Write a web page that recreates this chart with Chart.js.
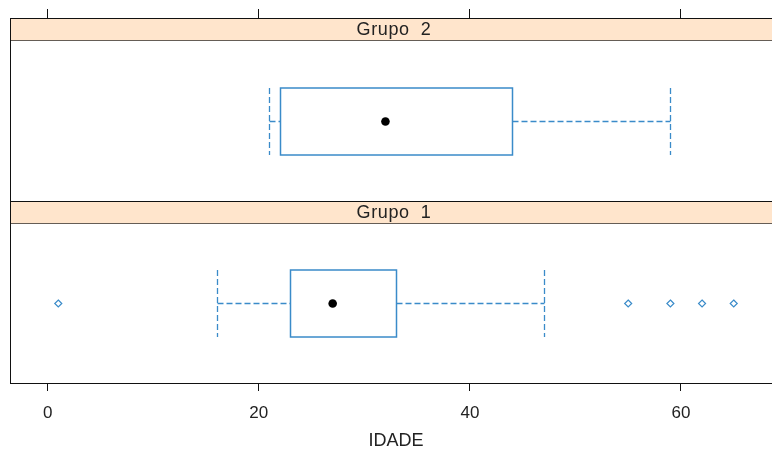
<!DOCTYPE html>
<html>
<head>
<meta charset="utf-8">
<script src="https://cdn.jsdelivr.net/npm/chart.js@4.4.1/dist/chart.umd.min.js"></script>
<style>
    body { margin: 0; background: #fff; overflow: hidden; }
    #wrap { width: 772px; height: 454px; overflow: hidden; }
</style>
</head>
<body>
<div id="wrap"><canvas id="myChart" width="800" height="454"></canvas></div>
<script>
// resumo dos boxplots (Grupo 1 embaixo, Grupo 2 em cima)
const grupos = ["Grupo  1", "Grupo  2"];
const minimos = [16, 21];
const quartil1 = [23, 22];
const medianas = [27, 32];
const quartil3 = [33, 44];
const maximos = [47, 59];
const outliers = [[1, 55, 59, 62, 65], []];
const ticksX = [0, 20, 40, 60];

const azul = "#3a8bc9";
const fonte = "'Liberation Sans', Arial, sans-serif";

const fixaTicks = (scale) => {
    scale.ticks = ticksX.map(v => ({ value: v }));
}

const paineis = {
    id: "paineis",
    afterDraw(chart) {
        const { ctx, chartArea, scales } = chart;
        const x = scales.x;
        const y = scales.y;
        const faixa = 22;
        const meiaAltura = 33.5;

        ctx.save();
        for (let i = 0; i < grupos.length; i++) {
            const topo = Math.round(y.getPixelForValue(i + 1));
            const base = Math.round(y.getPixelForValue(i));
            const esq = chartArea.left;
            const dir = chartArea.right;

            // faixa com o nome do grupo
            ctx.fillStyle = "#ffe5cc";
            ctx.fillRect(esq, topo, dir - esq, faixa);
            ctx.strokeStyle = "#655d56";
            ctx.lineWidth = 1.2;
            ctx.beginPath();
            ctx.moveTo(esq, topo + 0.5);
            ctx.lineTo(dir, topo + 0.5);
            ctx.moveTo(esq, topo + faixa + 0.5);
            ctx.lineTo(dir, topo + faixa + 0.5);
            ctx.stroke();
            ctx.fillStyle = "#222";
            ctx.font = "18px " + fonte;
            ctx.letterSpacing = "0.6px";
            ctx.textAlign = "center";
            ctx.textBaseline = "middle";
            ctx.fillText(grupos[i], (esq + 771) / 2 + 3, topo + faixa / 2 + 1);
            ctx.letterSpacing = "0px";

            // borda do painel
            ctx.strokeStyle = "#111";
            ctx.lineWidth = 1;
            ctx.strokeRect(esq - 0.5, topo + 0.5, dir - esq, base - topo);

            const cy = Math.round((topo + faixa + base) / 2) + 0.5;
            const px = (v) => Math.round(x.getPixelForValue(v)) + 0.5;

            // bigodes tracejados
            ctx.strokeStyle = azul;
            ctx.lineWidth = 1.3;
            ctx.setLineDash([6, 3]);
            ctx.beginPath();
            ctx.moveTo(px(minimos[i]), cy);
            ctx.lineTo(px(quartil1[i]), cy);
            ctx.moveTo(px(quartil3[i]), cy);
            ctx.lineTo(px(maximos[i]), cy);
            ctx.moveTo(px(minimos[i]), cy - meiaAltura);
            ctx.lineTo(px(minimos[i]), cy + meiaAltura);
            ctx.moveTo(px(maximos[i]), cy - meiaAltura);
            ctx.lineTo(px(maximos[i]), cy + meiaAltura);
            ctx.stroke();
            ctx.setLineDash([]);

            // caixa
            ctx.lineWidth = 1.5;
            ctx.fillStyle = "#fff";
            const bx = px(quartil1[i]);
            const bw = px(quartil3[i]) - bx;
            ctx.fillRect(bx, cy - meiaAltura, bw, meiaAltura * 2);
            ctx.strokeRect(bx, cy - meiaAltura, bw, meiaAltura * 2);

            // mediana
            ctx.fillStyle = "#000";
            ctx.beginPath();
            ctx.arc(x.getPixelForValue(medianas[i]), cy, 4.3, 0, Math.PI * 2);
            ctx.fill();

            // pontos extremos
            ctx.strokeStyle = azul;
            ctx.lineWidth = 1.2;
            outliers[i].forEach(v => {
                const ox = x.getPixelForValue(v);
                ctx.beginPath();
                ctx.moveTo(ox, cy - 3.5);
                ctx.lineTo(ox + 3.5, cy);
                ctx.lineTo(ox, cy + 3.5);
                ctx.lineTo(ox - 3.5, cy);
                ctx.closePath();
                ctx.stroke();
            });
        }
        ctx.restore();
    }
};

const ctx = document.getElementById("myChart").getContext("2d");
const myChart = new Chart(ctx, {
    type: "scatter",
    data: { datasets: [] },
    options: {
        responsive: false,
        animation: false,
        devicePixelRatio: 1,
        layout: { padding: { left: 11, right: 19, top: 0, bottom: 0 } },
        plugins: { legend: { display: false }, tooltip: { enabled: false } },
        scales: {
            x: {
                type: "linear",
                position: "bottom",
                min: -3.48,
                max: 69.48,
                afterBuildTicks: fixaTicks,
                afterFit: (scale) => { scale.height = 71; },
                grid: { drawOnChartArea: false, drawTicks: true, tickLength: 8, color: "#111" },
                border: { display: false },
                ticks: { color: "#222", padding: 12, maxRotation: 0, font: { family: fonte, size: 17 } },
                title: {
                    display: true,
                    text: "IDADE",
                    color: "#222",
                    padding: { top: 0, bottom: 2 },
                    font: { family: fonte, size: 18 }
                }
            },
            x2: {
                type: "linear",
                position: "top",
                min: -3.48,
                max: 69.48,
                afterBuildTicks: fixaTicks,
                afterFit: (scale) => { scale.height = 18; },
                grid: { drawOnChartArea: false, drawTicks: true, tickLength: 9, color: "#111" },
                border: { display: false },
                ticks: { display: false }
            },
            y: {
                type: "linear",
                min: 0,
                max: 2,
                display: false
            }
        }
    },
    plugins: [paineis]
});
</script>
</body>
</html>
